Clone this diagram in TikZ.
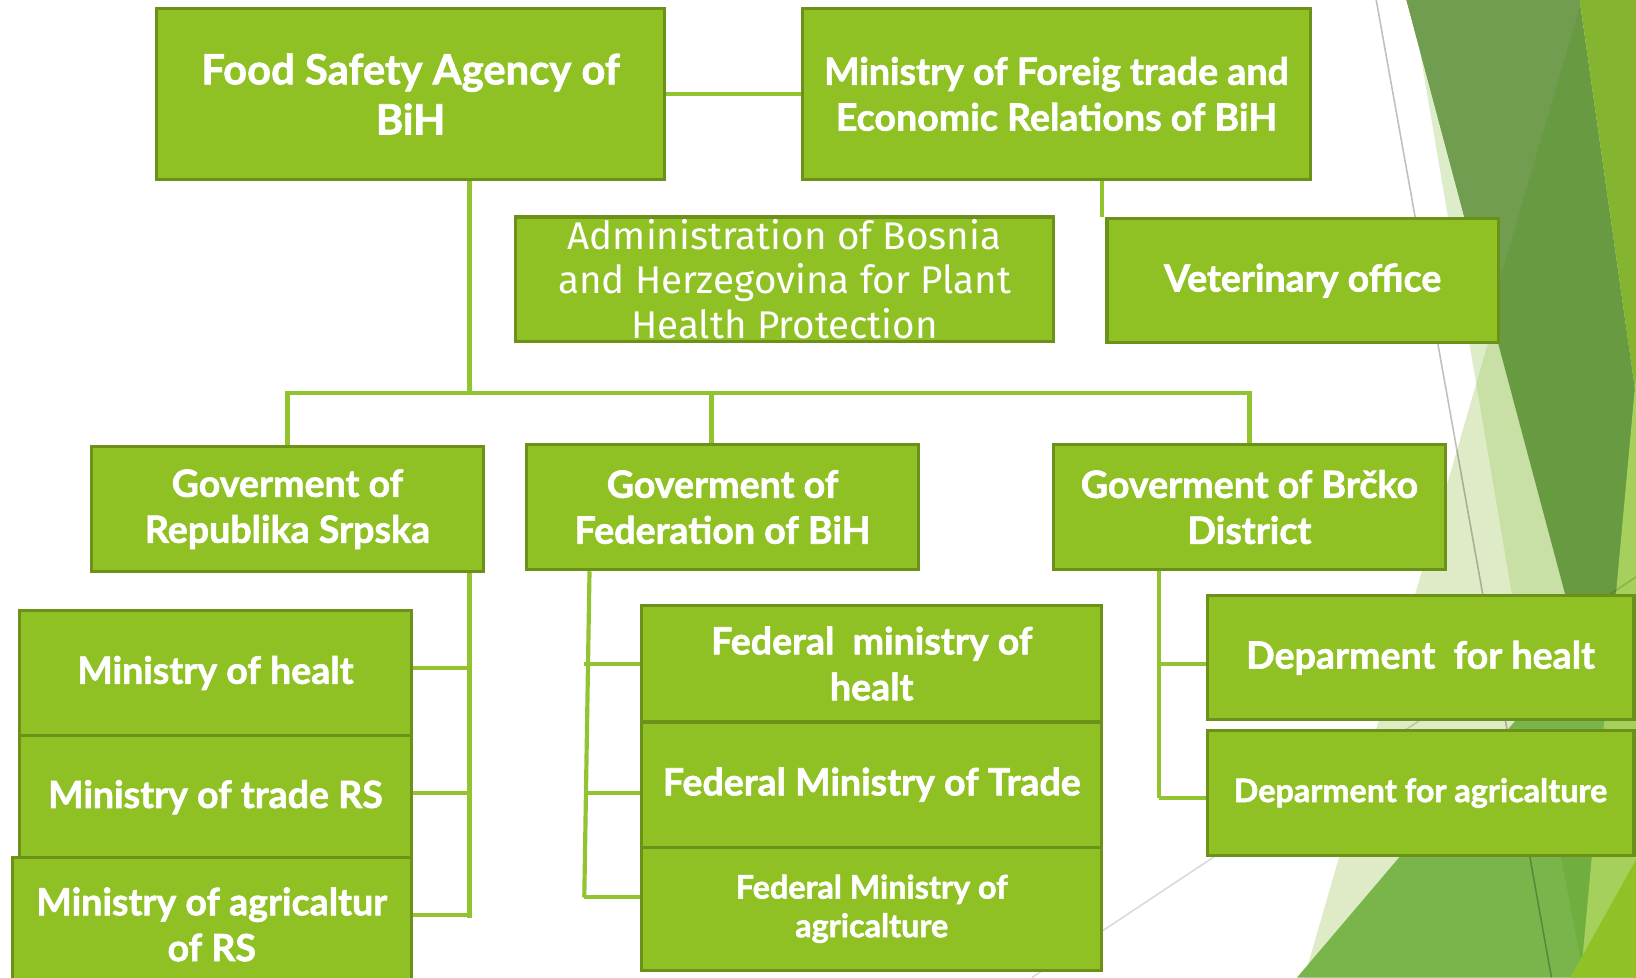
\documentclass[tikz,border=0pt]{standalone}
\usepackage{fontspec}
\setmainfont{Lato}[BoldFeatures={FakeBold=1.6}]
\newfontfamily\plainfont{Fira Sans}
\usetikzlibrary{calc}
\definecolor{boxgreen}{HTML}{8FC124}
\definecolor{boxedge}{HTML}{6B9118}
\definecolor{linkgreen}{HTML}{92C432}
\definecolor{palegreen}{HTML}{DFEBC6}
\definecolor{softgreen}{HTML}{9FCC6A}
\definecolor{darkgreen}{HTML}{689A41}
\definecolor{midgreen}{HTML}{709D4F}
\definecolor{leafgreen}{HTML}{7AB54B}
\definecolor{deepleaf}{HTML}{70AE3F}
\definecolor{limegreen}{HTML}{84B430}
\definecolor{lightlime}{HTML}{A6D05C}
\definecolor{brightlime}{HTML}{8FC226}

\begin{document}
\begin{tikzpicture}[x=1pt,y=-1pt,
	box/.style={draw=boxedge,line width=3pt,fill=boxgreen,text=white,align=center,inner sep=0pt,
		font=\bfseries\fontsize{36}{44}\selectfont},
	link/.style={draw=linkgreen,line width=4pt}]
% the page
\fill[white] (0,0) rectangle (1568,937);
\useasboundingbox (0,0) rectangle (1568,937);

% draw the facets on the right
\fill[palegreen] (1431,312) -- (1250,937) -- (1568,937) -- (1568,312) -- cycle;
\fill[softgreen,opacity=0.35] (1361,50) -- (1505,900) -- (1568,900) -- (1568,50) -- cycle;
\fill[darkgreen] (1348,0) -- (1514,0) -- (1568,380) -- (1568,824) -- cycle;
\fill[midgreen] (1348,0) -- (1516,0) -- (1428,300) -- cycle;
\fill[limegreen] (1514,0) -- (1568,0) -- (1568,380) -- cycle;
\fill[leafgreen] (1243,937) -- (1470,670) -- (1568,670) -- (1568,937) -- cycle;
\fill[deepleaf] (1488,780) -- (1530,780) -- (1516,925) -- cycle;
\fill[lightlime] (1568,360) -- (1515,937) -- (1568,937) -- cycle;
\fill[brightlime] (1568,824) -- (1505,937) -- (1568,937) -- cycle;
\draw[black,opacity=0.25,line width=1.5pt] (1319,0) -- (1487,937);
\draw[black,opacity=0.15,line width=1.5pt] (989,937) -- (1568,553);

% the state level
\node[box,minimum width=487pt,minimum height=164pt,font=\bfseries\fontsize{40}{48}\selectfont]
	(fsa) at (393.5,90) {Food Safety Agency of\\BiH};
\node[box,minimum width=487pt,minimum height=164pt] (mfter) at (1012.5,90)
	{Ministry of Foreig trade and\\Economic Relations of BiH};
\node[box,minimum width=516pt,minimum height=119pt,font=\plainfont\fontsize{37}{43}\selectfont]
	(aphp) at (752,267.5) {Administration of Bosnia\\and Herzegovina for Plant\\Health Protection};
\node[box,minimum width=375pt,minimum height=119pt] (vet) at (1248.5,269) {Veterinary office};

% the governments
\node[box,minimum width=375pt,minimum height=120pt] (grs) at (275.5,488) {Goverment of\\Republika Srpska};
\node[box,minimum width=375pt,minimum height=120pt] (gfbih) at (692.5,486) {Goverment of\\Federation of BiH};
\node[box,minimum width=375pt,minimum height=120pt] (gbd) at (1197.5,486) {Goverment of Brčko\\District};

% the ministries of Republika Srpska
\node[box,minimum width=375pt,minimum height=120pt] (mh) at (206.5,645) {Ministry of healt};
\node[box,minimum width=375pt,minimum height=118pt] (mt) at (206.5,764) {Ministry of trade RS};
\node[box,minimum width=382pt,minimum height=128pt] (ma) at (203,886) {Ministry of agricaltur\\of RS};

% the federal ministries
\node[box,minimum width=441pt,minimum height=112pt] (fmh) at (835.5,636) {Federal\ \ ministry of\\healt};
\node[box,minimum width=441pt,minimum height=120pt] (fmt) at (835.5,752) {Federal Ministry of Trade};
\node[box,minimum width=441pt,minimum height=118pt,font=\bfseries\fontsize{31}{37}\selectfont]
	(fma) at (835.5,871) {Federal Ministry of\\agricalture};

% the departments of Brčko District
\node[box,minimum width=409pt,minimum height=119pt] (dh) at (1361.5,630.5) {Deparment\ \ for healt};
\node[box,minimum width=409pt,minimum height=120pt,font=\bfseries\fontsize{31}{37}\selectfont]
	(da) at (1361.5,760) {Deparment for agricalture};

% draw the links
\coordinate (hub) at (450,377);
\coordinate (vettap) at (1056,208);
\coordinate (fedtap) at (682,377);
\coordinate (rsend) at (450,880);
\coordinate (fedtop) at (565,546);
\coordinate (fedend) at (560,860);
\coordinate (bdend) at (1111,765);

\draw[link] (fsa.east) -- (mfter.west);
\draw[link] (mfter.south -| vettap) -- (vettap);
\draw[link] (fsa.south -| hub) -- (hub);
\draw[link] (grs.north) -- (grs.north |- hub) -- (gbd.north |- hub) -- (gbd.north);
\draw[link] (fedtap) -- (fedtap |- gfbih.north);

% Republika Srpska
\draw[link] (grs.south -| rsend) -- (rsend);
\foreach \m/\dy in {mh/5,mt/4,ma/9}
	\draw[link] ([yshift=\dy pt]\m.east) -- ([yshift=\dy pt]\m.east -| rsend);

% Federation of BiH
\draw[link] (gfbih.south -| fedtop) -- (fedend);
\foreach \m/\dy in {fmh/0,fmt/-8,fma/11}
	\draw[link] ([yshift=\dy pt]\m.west) -- ([yshift=\dy pt]\m.west -| fedend);

% Brcko District
\draw[link] (gbd.south -| bdend) -- (bdend);
\foreach \m/\dy in {dh/-5.5,da/-5}
	\draw[link] ([yshift=\dy pt]\m.west) -- ([yshift=\dy pt]\m.west -| bdend);
\end{tikzpicture}
\end{document}
